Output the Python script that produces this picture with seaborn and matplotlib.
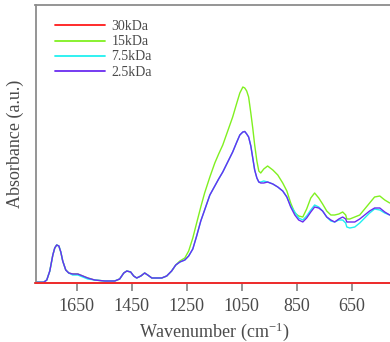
import numpy as np
import pandas as pd
import matplotlib
matplotlib.use("Agg")
import matplotlib.pyplot as plt
import seaborn as sns

# FTIR spectra (absorbance, arbitrary units) on a shared wavenumber grid
wavenumber = [1803, 1770, 1759, 1748, 1737, 1730, 1723, 1715, 1708, 1701, 1690, 1679,
              1665, 1646, 1628, 1610, 1585, 1548, 1512, 1494, 1479, 1468, 1454, 1443,
              1432, 1417, 1403, 1392, 1377, 1359, 1341, 1323, 1305, 1290, 1275, 1257,
              1243, 1228, 1214, 1199, 1185, 1166, 1148, 1134, 1119, 1101, 1083, 1068,
              1057, 1046, 1039, 1032, 1025, 1017, 1010, 1003, 995, 988, 981, 970,
              956, 937, 919, 901, 886, 872, 857, 843, 828, 814, 799, 785,
              770, 756, 741, 726, 712, 697, 683, 672, 668, 657, 639, 621,
              603, 585, 567, 548, 530, 512]

kda_30 = [0] * len(wavenumber)

kda_15 = [0.8, 0.8, 3, 12, 28, 35, 38, 37, 31, 22, 13, 10,
          9, 9, 7, 5, 3, 2, 2, 4, 10, 12, 11, 7,
          5, 7, 10, 8, 5, 5, 5, 7, 12, 18, 22, 25,
          32, 45, 60, 76, 90, 106, 120, 129, 138, 152, 166, 180,
          190, 196, 195, 192, 186, 170, 155, 138, 122, 112, 110, 114,
          117, 113, 108, 100, 92, 80, 70, 67, 66, 74, 85, 90,
          85, 79, 72, 68, 68, 69, 71, 68, 64, 64, 66, 68,
          74, 80, 86, 87, 83, 80]

kda_7_5 = [0.8, 0.8, 3, 12, 28, 35, 38, 37, 31, 22, 13, 10,
           8, 8, 6, 4, 3, 2, 2, 4, 10, 12, 11, 7,
           5, 7, 10, 8, 5, 5, 5, 7, 12, 18, 21, 23,
           27, 34, 47, 62, 73, 88, 97, 104, 111, 121, 131, 141,
           148, 151, 151.5, 149, 146, 137, 125, 113, 105, 101, 101, 102,
           101, 99, 96, 92, 86, 77, 71, 65, 63, 67, 73, 78,
           76, 72, 66, 62, 61, 63, 63, 60, 56, 55, 56, 60,
           65, 70, 74, 73, 70, 68]

kda_2_5 = [0.8, 0.8, 3, 12, 28, 35, 38, 37, 31, 22, 13, 10,
           9, 9, 7, 5, 3, 2, 2, 4, 10, 12, 11, 7,
           5, 7, 10, 8, 5, 5, 5, 7, 12, 18, 21, 23,
           27, 34, 47, 62, 73, 88, 97, 104, 111, 121, 131, 141,
           148, 151, 151.5, 149, 146, 137, 125, 113, 105, 101, 100, 100,
           101, 99, 96, 92, 86, 76, 68, 63, 61, 65, 71, 76,
           75, 72, 66, 63, 61, 64, 66, 64, 61, 61, 61, 64,
           68, 72, 75, 75, 71, 68]

samples = ["30kDa", "15kDa", "7.5kDa", "2.5kDa"]
colors = ["#ff1a1a", "#80f020", "#20f0f0", "#6a2cf0"]

df = pd.concat([
    pd.DataFrame({"Wavenumber": wavenumber, "Absorbance": vals, "Sample": name})
    for name, vals in zip(samples, [kda_30, kda_15, kda_7_5, kda_2_5])
], ignore_index=True)

sns.set_style("white")
plt.rcParams["font.family"] = ["Liberation Serif", "DejaVu Serif"]
plt.rcParams["mathtext.fontset"] = "custom"
plt.rcParams["mathtext.rm"] = "Liberation Serif"
plt.rcParams["mathtext.it"] = "Liberation Serif:italic"

text_color = "#4a4a4a"
spine_color = "#8c8c8c"

fig = plt.figure(figsize=(3.9, 3.42), dpi=100)
ax = fig.add_axes([35.5 / 390, 1 - 283 / 342, 357.5 / 390, 278 / 342])

sns.lineplot(data=df, x="Wavenumber", y="Absorbance", hue="Sample",
             hue_order=samples, palette=dict(zip(samples, colors)),
             estimator=None, sort=True, linewidth=1.0, ax=ax)

# keep the flat 30kDa trace visible on top of the bottom edge
for line in ax.get_lines():
    yd = np.asarray(line.get_ydata(), dtype=float)
    if yd.size > 2 and np.allclose(yd, 0):
        line.set_clip_on(False)
        line.set_zorder(5)
        line.set_linewidth(1.2)

ax.set_xlim(1800, 500)
ax.set_ylim(0, 278)
ax.set_xticks([1650, 1450, 1250, 1050, 850, 650])
ax.set_yticks([])

for side in ["left", "top", "bottom"]:
    ax.spines[side].set_color(spine_color)
    ax.spines[side].set_linewidth(1.3)
ax.spines["right"].set_visible(False)

ax.tick_params(axis="x", direction="out", length=6, width=1.3, color=spine_color,
               labelsize=13, labelcolor=text_color, pad=5, bottom=True)

ax.set_xlabel("Wavenumber (cm$^{-1}$)", fontsize=13, color=text_color, labelpad=4)
ax.set_ylabel("Absorbance (a.u.)", fontsize=13, color=text_color, labelpad=8)

handles, labels = ax.get_legend_handles_labels()
ax.legend(handles, labels, loc="upper left", bbox_to_anchor=(0.02, 0.99),
          frameon=False, fontsize=10, handlelength=3.6, handletextpad=0.45,
          labelspacing=0.15, labelcolor=text_color)
for lh in ax.get_legend().get_lines():
    lh.set_linewidth(1.3)

fig.savefig("out.png", dpi=100)
